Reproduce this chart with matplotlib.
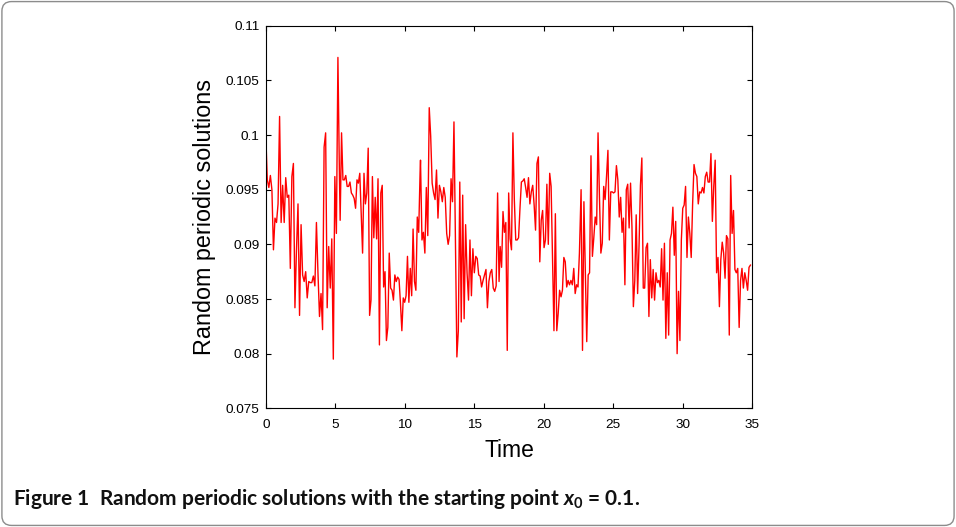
import numpy as np
import matplotlib
matplotlib.use("Agg")
import matplotlib.pyplot as plt
from matplotlib.patches import FancyBboxPatch
from matplotlib.ticker import FuncFormatter

plt.rcParams['font.family'] = ['Liberation Sans', 'DejaVu Sans']
plt.rcParams['mathtext.fontset'] = 'custom'
plt.rcParams['mathtext.it'] = 'Lato:bold:italic'
plt.rcParams['mathtext.rm'] = 'Lato:bold'
plt.rcParams['mathtext.bf'] = 'Lato:bold'

# solution values, piece by piece (start time, end time)
seg1_t = (0.0, 5.30)
seg1 = [0.1, 0.0959, 0.0952, 0.0963, 0.095, 0.0895, 0.0924, 0.092, 0.0937, 0.1017,
        0.092, 0.0954, 0.092, 0.0961, 0.0943, 0.0945, 0.0878, 0.0962, 0.0974, 0.0842,
        0.0895, 0.0937, 0.0835, 0.0918, 0.0872, 0.0866, 0.0875, 0.0851, 0.0866, 0.0865,
        0.0865, 0.0871, 0.0862, 0.092, 0.0874, 0.0834, 0.0855, 0.0822, 0.0989, 0.1002,
        0.0842, 0.0898, 0.086, 0.0905, 0.0795, 0.0962, 0.091, 0.1071, 0.0962]

seg2_t = (5.35, 11.10)
seg2 = [0.0922, 0.1002, 0.0959, 0.0959, 0.0963, 0.0953, 0.0953, 0.0957, 0.0947, 0.0945,
        0.0942, 0.0933, 0.0959, 0.0956, 0.0965, 0.0929, 0.0892, 0.0965, 0.0937, 0.0947,
        0.0988, 0.0835, 0.0849, 0.0962, 0.0906, 0.0943, 0.0905, 0.096, 0.0808, 0.0947,
        0.0954, 0.0861, 0.0875, 0.0812, 0.0824, 0.0892, 0.086, 0.0858, 0.0849, 0.0872,
        0.0866, 0.087, 0.0868, 0.0846, 0.0821, 0.0851, 0.0847, 0.0853, 0.0889, 0.0847,
        0.0878, 0.0853, 0.0914, 0.0866, 0.0858, 0.0925, 0.0911, 0.0966]

seg3_t = (11.13, 16.78)
seg3 = [0.0977, 0.0904, 0.0911, 0.0892, 0.0952, 0.0908, 0.1025, 0.0999, 0.0956, 0.0947,
        0.0941, 0.0968, 0.0924, 0.0954, 0.0948, 0.0939, 0.0952, 0.0943, 0.091, 0.09,
        0.0908, 0.096, 0.0939, 0.1012, 0.0904, 0.0797, 0.0821, 0.0957, 0.0829, 0.0945,
        0.0832, 0.0918, 0.0874, 0.0849, 0.0904, 0.0853, 0.0896, 0.0874, 0.0889, 0.0887,
        0.0872, 0.0871, 0.0861, 0.0867, 0.0872, 0.0877, 0.0842, 0.0866, 0.0874, 0.0877,
        0.086, 0.0857, 0.0862, 0.0947, 0.0866]

seg4_t = (16.86, 22.56)
seg4 = [0.0898, 0.0879, 0.093, 0.0911, 0.092, 0.0803, 0.0947, 0.0905, 0.0895, 0.1002,
        0.0941, 0.0904, 0.0904, 0.0906, 0.0933, 0.0957, 0.0958, 0.096, 0.0952, 0.0943,
        0.0961, 0.0937, 0.0948, 0.0954, 0.0936, 0.0913, 0.0974, 0.098, 0.0884, 0.0922,
        0.0931, 0.0897, 0.0904, 0.0955, 0.09, 0.0965, 0.0953, 0.0888, 0.0821, 0.0928,
        0.0821, 0.0837, 0.0858, 0.0852, 0.0858, 0.0888, 0.0884, 0.0861, 0.0867, 0.0863,
        0.0867, 0.0863, 0.0878, 0.0855, 0.0863, 0.0861, 0.0892]

seg5_t = (22.68, 28.27)
seg5 = [0.095, 0.0803, 0.0939, 0.0874, 0.0811, 0.0872, 0.0874, 0.0981, 0.0889, 0.0906,
        0.0925, 0.0918, 0.1002, 0.0943, 0.0892, 0.0901, 0.0953, 0.0941, 0.0962, 0.0986,
        0.0904, 0.0948, 0.0948, 0.0947, 0.0948, 0.0972, 0.0959, 0.0925, 0.0943, 0.0911,
        0.0924, 0.0863, 0.095, 0.0955, 0.0915, 0.0956, 0.0916, 0.0843, 0.0867, 0.0927,
        0.0855, 0.0898, 0.0954, 0.0979, 0.086, 0.086, 0.0897, 0.0901, 0.0834, 0.0886,
        0.0851, 0.0877, 0.0849, 0.0874, 0.0865, 0.0867]

seg6_t = (28.37, 34.86)
seg6 = [0.0861, 0.0896, 0.0849, 0.0901, 0.0814, 0.0874, 0.0817, 0.0904, 0.091, 0.0934,
        0.089, 0.0921, 0.08, 0.0857, 0.0812, 0.0904, 0.0933, 0.0936, 0.0953, 0.0888,
        0.0925, 0.091, 0.0888, 0.0937, 0.0973, 0.0965, 0.0962, 0.0937, 0.0948, 0.0947,
        0.0952, 0.0947, 0.0962, 0.0966, 0.0957, 0.0957, 0.0983, 0.0921, 0.0953, 0.0977,
        0.0874, 0.0888, 0.0843, 0.0886, 0.0902, 0.0892, 0.0869, 0.0908, 0.0905, 0.0817,
        0.0963, 0.091, 0.0931, 0.0877, 0.0874, 0.0878, 0.0824, 0.0867, 0.0878, 0.086,
        0.0874, 0.0867, 0.0858, 0.0879, 0.0881]

x_ticks = [0, 5, 10, 15, 20, 25, 30, 35]
y_ticks = [0.075, 0.08, 0.085, 0.09, 0.095, 0.1, 0.105, 0.11]

segments = [(seg1_t, seg1), (seg2_t, seg2), (seg3_t, seg3),
            (seg4_t, seg4), (seg5_t, seg5), (seg6_t, seg6)]
t = np.concatenate([np.linspace(a, b, len(v)) for (a, b), v in segments])
x = np.concatenate([v for _, v in segments])

fig = plt.figure(figsize=(9.56, 5.27), dpi=100)
ax = fig.add_axes([0.278, 0.2252, 0.509, 0.726])

ax.plot(t, x, color='red', lw=1.0)

ax.set_xlim(0, 35)
ax.set_ylim(0.075, 0.11)
ax.set_xticks(x_ticks)
ax.set_yticks(y_ticks)
ax.yaxis.set_major_formatter(FuncFormatter(lambda v, p: '%g' % v))
ax.tick_params(direction='in', top=True, right=True, length=3.5, width=0.8,
               labelsize=9.7)
ax.tick_params(axis='x', pad=8)
ax.tick_params(axis='y', pad=4.5)
for s in ax.spines.values():
    s.set_linewidth(0.8)

ax.set_xlabel('Time', fontsize=16.5, labelpad=5.5)
ax.set_ylabel('Random periodic solutions', fontsize=16.8, labelpad=7)

# caption under the plot
fig.text(0.014, 0.042, r'Figure 1  Random periodic solutions with the starting point $x_0$ = 0.1.',
         fontsize=15, fontweight='bold', family='Lato', color='#111111')

# rounded frame around the whole figure
frame = FancyBboxPatch((0.002, 0.003), 0.996, 0.994, boxstyle='round,pad=0,rounding_size=0.01',
                       transform=fig.transFigure, mutation_aspect=956 / 527,
                       edgecolor='#8c8c8c', facecolor='none', lw=1.0)
fig.patches.append(frame)

fig.savefig('out.png', dpi=100)
